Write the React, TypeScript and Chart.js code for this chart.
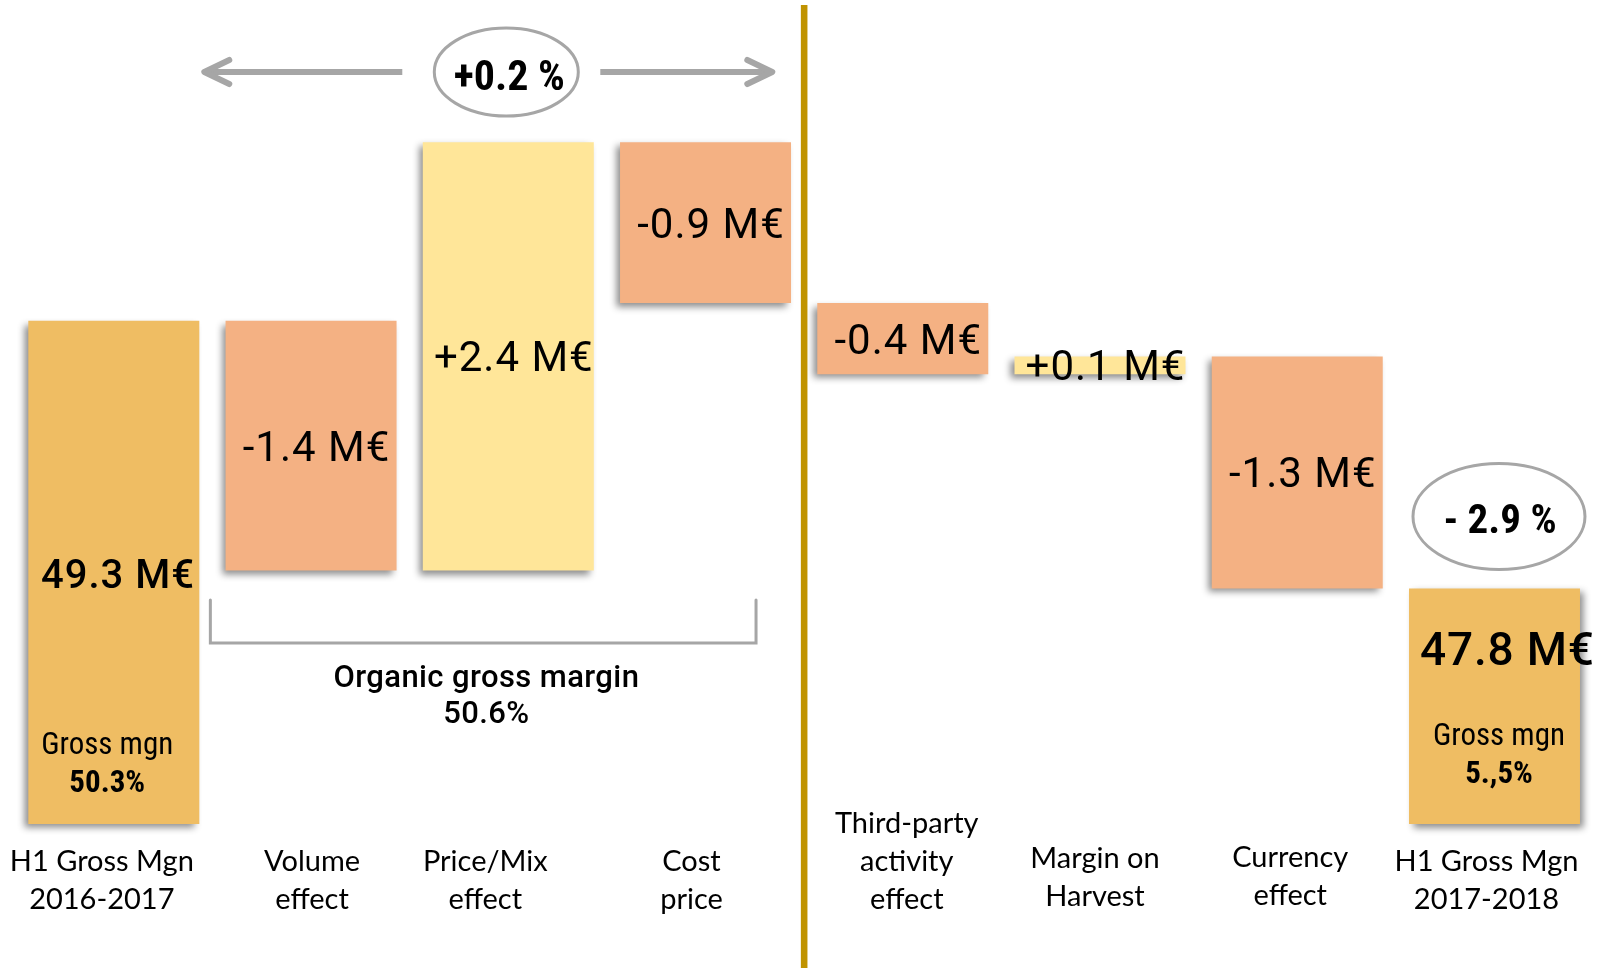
import React, { useEffect, useRef } from "react";
import { Chart, registerables } from "chart.js";

Chart.register(...registerables);

// ---- data (M€) ----
const categories: string[][] = [
  ["H1 Gross Mgn", "2016-2017"],
  ["Volume", "effect"],
  ["Price/Mix", "effect"],
  ["Cost", "price"],
  ["Third-party", "activity", "effect"],
  ["Margin on", "Harvest"],
  ["Currency", "effect"],
  ["H1 Gross Mgn", "2017-2018"],
];
const openingMargin = 49.3;
const marginChanges = [-1.4, 2.4, -0.9, -0.4, 0.1, -1.3];
const closingMargin = 47.8;
const openingRate = "50.3%";
const closingRate = "5.,5%";
const organicLabel = "Organic gross margin";
const organicRate = "50.6%";
const organicChange = "+0.2 %";
const totalChange = "- 2.9 %";
const rateCaption = "Gross mgn";

// truncated value axis so the steps stay readable
const axisFloor = 46.48;
const axisCeil = 51;

// ---- look ----
const W = 1606;
const H = 968;
const TOTAL_COLOR = "#EFBD63";
const DOWN_COLOR = "#F4B183";
const UP_COLOR = "#FFE699";
const GREY = "#A6A6A6";
const DIVIDER = "#C09300";
const DIN = 'Roboto, "Liberation Sans", sans-serif';
const NARROW = '"Liberation Sans Narrow", "Roboto Condensed", "Liberation Sans", sans-serif';
const BODY = 'Lato, "Open Sans", sans-serif';

// per-column nudges of the category captions
const captionShiftX = [-12, 1, -23, -14, 4, -5, -7, -8];
const captionShiftY = [0, 0, 0, 0, 0, -3, -4, 0];

// cumulative floating bars for the bridge
let running = openingMargin;
const stepBars: number[][] = marginChanges.map((d) => {
  const from = running;
  running = Math.round((running + d) * 10) / 10;
  return [from, running];
});

const stepData: (number[] | null)[] = [[axisFloor, openingMargin], ...stepBars, null];
const stepColors = [TOTAL_COLOR, ...marginChanges.map((d) => (d < 0 ? DOWN_COLOR : UP_COLOR)), TOTAL_COLOR];
const closingData: (number[] | null)[] = [...categories.slice(0, 7).map(() => null), [axisFloor, closingMargin]];

const fmtChange = (d: number) => `${d > 0 ? "+" : "-"}${Math.abs(d).toFixed(1)} M€`;
const fmtTotal = (v: number) => `${v.toFixed(1)} M€`;

function drawText(
  ctx: CanvasRenderingContext2D,
  str: string,
  x: number,
  y: number,
  font: string,
  spacing = 0
) {
  ctx.save();
  ctx.font = font;
  (ctx as any).letterSpacing = `${spacing}px`;
  ctx.textAlign = "center";
  ctx.textBaseline = "alphabetic";
  ctx.fillStyle = "#000";
  ctx.fillText(str, x + spacing / 2, y);
  ctx.restore();
}

const barShadow = {
  id: "barShadow",
  beforeDatasetDraw(chart: any, args: any) {
    const ctx = chart.ctx;
    ctx.save();
    ctx.shadowColor = "rgba(0,0,0,0.45)";
    ctx.shadowBlur = 7;
    ctx.shadowOffsetX = args.index === 1 ? 4 : -4;
    ctx.shadowOffsetY = 4;
  },
  afterDatasetDraw(chart: any) {
    chart.ctx.restore();
  },
};

const decorations = {
  id: "decorations",
  afterDatasetsDraw(chart: any) {
    const { ctx, scales } = chart;
    const x = scales.x;
    const y = scales.y;
    const base = y.getPixelForValue(axisFloor);

    // divider between organic and non-organic effects
    const divX = (x.getPixelForValue(3) + x.getPixelForValue(4)) / 2;
    ctx.save();
    ctx.fillStyle = DIVIDER;
    ctx.fillRect(divX - 3.3, 5, 6.6, H - 5);
    ctx.restore();

    // organic change bubble with arrows
    const e1x = x.getPixelForValue(2) - 2;
    const e1y = 72;
    ctx.save();
    ctx.strokeStyle = GREY;
    ctx.lineWidth = 6;
    ctx.lineCap = "butt";
    ctx.beginPath();
    ctx.moveTo(e1x - 104, e1y);
    ctx.lineTo(e1x - 300, e1y);
    ctx.moveTo(e1x + 94, e1y);
    ctx.lineTo(e1x + 264, e1y);
    ctx.stroke();
    ctx.lineCap = "round";
    ctx.lineJoin = "round";
    ctx.beginPath();
    ctx.moveTo(e1x - 277, e1y - 12);
    ctx.lineTo(e1x - 302, e1y);
    ctx.lineTo(e1x - 277, e1y + 12);
    ctx.moveTo(e1x + 241, e1y - 12);
    ctx.lineTo(e1x + 266, e1y);
    ctx.lineTo(e1x + 241, e1y + 12);
    ctx.stroke();

    ctx.lineWidth = 3;
    ctx.fillStyle = "#fff";
    ctx.beginPath();
    ctx.ellipse(e1x, e1y, 72, 44, 0, 0, Math.PI * 2);
    ctx.fill();
    ctx.stroke();

    // total change bubble above the closing bar
    const e2x = x.getPixelForValue(7) + 4.5;
    const e2y = y.getPixelForValue(closingMargin) - 72;
    ctx.beginPath();
    ctx.ellipse(e2x, e2y, 86, 53, 0, 0, Math.PI * 2);
    ctx.fill();
    ctx.stroke();

    // bracket under the organic effects
    const bL = x.getPixelForValue(1) - 100.7;
    const bR = x.getPixelForValue(3) + 50.5;
    ctx.beginPath();
    ctx.moveTo(bL, 600);
    ctx.lineTo(bL, 643);
    ctx.lineTo(bR, 643);
    ctx.lineTo(bR, 600);
    ctx.lineJoin = "miter";
    ctx.stroke();
    ctx.restore();

    drawText(ctx, organicChange, e1x + 3, e1y + 18, `bold 42px ${NARROW}`);
    drawText(ctx, totalChange, e2x + 1, e2y + 17, `bold 41px ${NARROW}`);
    const bc = (bL + bR) / 2 + 3;
    drawText(ctx, organicLabel, bc, 687, `500 31px ${DIN}`, 0.4);
    drawText(ctx, organicRate, bc, 723, `500 31px ${DIN}`, 0.4);

    // step labels, centred on each floating bar
    stepBars.forEach(([from, to], i) => {
      const cx = x.getPixelForValue(i + 1) + 5;
      const cy = (y.getPixelForValue(from) + y.getPixelForValue(to)) / 2;
      drawText(ctx, fmtChange(marginChanges[i]), cx, cy + 15, `400 42px ${DIN}`, 1);
    });

    // opening total
    const x0 = x.getPixelForValue(0);
    const top0 = y.getPixelForValue(openingMargin);
    drawText(ctx, fmtTotal(openingMargin), x0 + 3.6, (top0 + base) / 2 + 16, `500 40px ${DIN}`, 1);
    drawText(ctx, rateCaption, x0 - 6.6, base - 70, `31px ${NARROW}`);
    drawText(ctx, openingRate, x0 - 6.6, base - 32.5, `bold 31px ${NARROW}`);

    // closing total
    const x7 = x.getPixelForValue(7);
    const top7 = y.getPixelForValue(closingMargin);
    drawText(ctx, fmtTotal(closingMargin), x7 + 12.5, top7 + 77, `500 46px ${DIN}`, 0.8);
    drawText(ctx, rateCaption, x7 + 4.5, base - 79, `31px ${NARROW}`);
    drawText(ctx, closingRate, x7 + 4.5, base - 41, `bold 31px ${NARROW}`);

    // category captions, bottom-aligned
    categories.forEach((lines, i) => {
      const cx = x.getPixelForValue(i) + captionShiftX[i];
      const last = base + 85 + captionShiftY[i];
      lines.forEach((ln, j) => {
        drawText(ctx, ln, cx, last - (lines.length - 1 - j) * 38, `29px ${BODY}`);
      });
    });
  },
};

export default function App() {
  const ref = useRef<HTMLCanvasElement>(null);

  useEffect(() => {
    const canvas = ref.current;
    if (!canvas) return;
    const chart = new Chart(canvas, {
      type: "bar",
      data: {
        labels: categories.map((c) => c.join(" ")),
        datasets: [
          {
            data: stepData as any,
            backgroundColor: stepColors,
            borderWidth: 0,
            grouped: false,
            categoryPercentage: 1,
            barPercentage: 0.867,
            clip: false as any,
          },
          {
            data: closingData as any,
            backgroundColor: TOTAL_COLOR,
            borderWidth: 0,
            grouped: false,
            categoryPercentage: 1,
            barPercentage: 0.867,
            clip: false as any,
          },
        ],
      },
      options: {
        animation: false,
        responsive: false,
        maintainAspectRatio: false,
        layout: { padding: { left: 15.2, right: 12.9, top: 17.4, bottom: 144 } },
        plugins: { legend: { display: false }, tooltip: { enabled: false } },
        scales: {
          x: { display: false, offset: true, grid: { display: false } },
          y: { display: false, min: axisFloor, max: axisCeil, grid: { display: false } },
        },
      },
      plugins: [barShadow, decorations],
    });
    return () => chart.destroy();
  }, []);

  return (
    <div style={{ position: "absolute", left: 0, top: 0, width: W, height: H, background: "#fff" }}>
      <canvas ref={ref} width={W} height={H} style={{ display: "block", width: W, height: H }} />
    </div>
  );
}
